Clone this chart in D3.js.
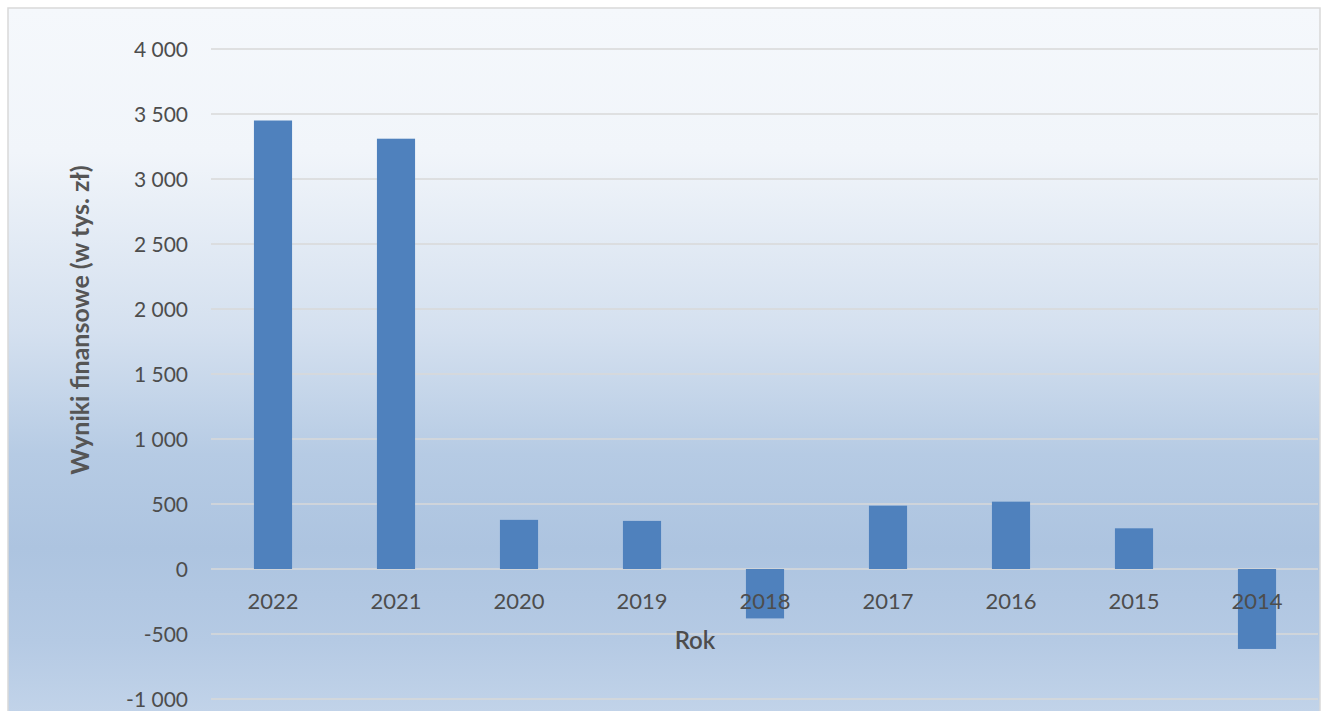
<!DOCTYPE html>
<html><head><meta charset="utf-8">
<script src="https://cdn.jsdelivr.net/npm/d3@7"></script>
<style>body{margin:0;background:#fff}</style>
</head><body>
<svg id="c" width="1325" height="711"></svg>
<script>
const years = ["2022","2021","2020","2019","2018","2017","2016","2015","2014"];
const values = [3450, 3310, 378, 370, -380, 487, 518, 313, -615];
const yTicks = [-1000,-500,0,500,1000,1500,2000,2500,3000,3500,4000];
const yTitle = "Wyniki finansowe (w tys. zł)";
const xTitle = "Rok";

const svg = d3.select("#c");
const defs = svg.append("defs");
const g = defs.append("linearGradient").attr("id","bg").attr("x1",0).attr("y1",0).attr("x2",0).attr("y2",1);
[[0,"#f5f8fc"],[0.2,"#f1f5fa"],[0.45,"#d4e0ef"],[0.62,"#b6cbe4"],[0.75,"#adc4e0"],[0.88,"#b5cae4"],[1,"#c4d5ea"]]
  .forEach(([o,c])=>g.append("stop").attr("offset",o).attr("stop-color",c));

svg.append("rect").attr("x",8).attr("y",8).attr("width",1312).attr("height",720)
  .attr("fill","url(#bg)").attr("stroke","#d9d9d9").attr("stroke-width",1.5);

const x = d3.scaleBand().domain(years).range([211.5,1318.5]).paddingInner(0.69).paddingOuter(0.345);
const y = d3.scaleLinear().domain([-1000,4000]).range([699,49]);

const font = "Lato, 'Open Sans', sans-serif";
const fmt = d => (d < 0 ? "-" : "") + d3.format(",")(Math.abs(d)).replace(/,/g," ");

// gridlines
svg.append("g").selectAll("line").data(yTicks).join("line")
  .attr("x1",211).attr("x2",1318).attr("y1",d=>y(d)).attr("y2",d=>y(d))
  .attr("stroke","#d9d9d9").attr("stroke-width",1.5);

// y axis labels
const yAxis = d3.axisLeft(y).tickValues(yTicks).tickSize(0).tickPadding(0).tickFormat(fmt);
const ya = svg.append("g").attr("transform","translate(188,0)").call(yAxis);
ya.select(".domain").remove();
ya.selectAll("text").attr("font-family",font).attr("font-size",21).attr("fill","#4d4d4d").attr("dy","0.35em");

// bars
svg.append("g").selectAll("rect").data(values).join("rect")
  .attr("x",(d,i)=>x(years[i])).attr("width",x.bandwidth())
  .attr("y",d=>y(Math.max(0,d))).attr("height",d=>Math.abs(y(d)-y(0)))
  .attr("fill","#4f81bd");

// x axis labels
const xAxis = d3.axisBottom(x).tickSize(0).tickPadding(0);
const xa = svg.append("g").attr("transform","translate(0,601)").call(xAxis);
xa.select(".domain").remove();
xa.selectAll("text").attr("font-family",font).attr("font-size",22).attr("fill","#4d4d4d").attr("dy","0.35em");

svg.append("text").attr("x",695).attr("y",641).attr("dy","0.35em").attr("text-anchor","middle")
  .attr("font-family",font).attr("font-size",24).attr("font-weight",600).attr("fill","#4d4d4d").text(xTitle);

svg.append("text").attr("transform","translate(80,320) rotate(-90)").attr("dy","0.35em").attr("text-anchor","middle")
  .attr("font-family",font).attr("font-size",25).attr("font-weight","bold").attr("fill","#555").text(yTitle);
</script>
</body></html>
